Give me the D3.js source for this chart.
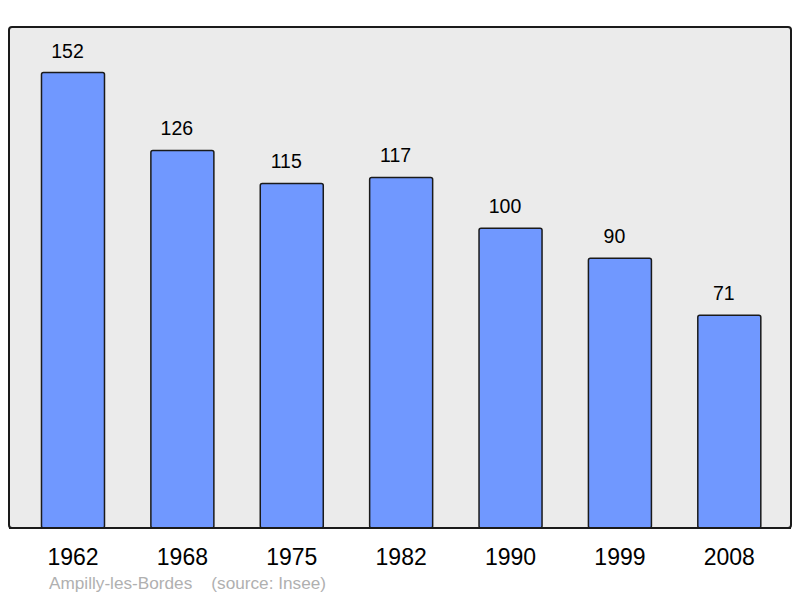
<!DOCTYPE html>
<html>
<head>
<meta charset="utf-8">
<script src="https://cdn.jsdelivr.net/npm/d3@7"></script>
<style>
  html, body { margin: 0; padding: 0; background: #ffffff; }
  svg { display: block; }
  text { font-family: "Liberation Sans", Arial, sans-serif; }
</style>
</head>
<body>
<svg id="chart" width="800" height="598"></svg>
<script>
const years = ["1962", "1968", "1975", "1982", "1990", "1999", "2008"];
const population = [152, 126, 115, 117, 100, 90, 71];
const placeName = "Ampilly-les-Bordes";
const sourceLabel = "(source: Insee)";

const W = 800, H = 598;
const panel = { x0: 9, y0: 27, x1: 791, y1: 528 };

const svg = d3.select("#chart");

svg.append("rect")
  .attr("x", panel.x0).attr("y", panel.y0)
  .attr("width", panel.x1 - panel.x0).attr("height", panel.y1 - panel.y0)
  .attr("rx", 3).attr("ry", 3)
  .attr("fill", "#ebebeb")
  .attr("stroke", "#1a1a1a").attr("stroke-width", 2);

const x = d3.scaleBand()
  .domain(years)
  .range([18.3, 784])
  .paddingInner(0.424)
  .paddingOuter(0.212);

const y = d3.scaleLinear()
  .domain([0, d3.max(population) * 1.1])
  .range([panel.y1, panel.y0]);

const data = years.map((yr, i) => ({ year: yr, value: population[i] }));

svg.append("g").selectAll("rect")
  .data(data).join("rect")
  .attr("x", d => x(d.year))
  .attr("y", d => y(d.value))
  .attr("width", x.bandwidth())
  .attr("height", d => y(0) - y(d.value))
  .attr("rx", 2).attr("ry", 2)
  .attr("fill", "#7098ff")
  .attr("stroke", "#1a1a1a").attr("stroke-width", 1.5);

// redraw panel bottom edge on top of bars
svg.append("line")
  .attr("x1", panel.x0).attr("x2", panel.x1)
  .attr("y1", panel.y1).attr("y2", panel.y1)
  .attr("stroke", "#1a1a1a").attr("stroke-width", 2);

svg.append("g").selectAll("text")
  .data(data).join("text")
  .attr("x", d => x(d.year) + x.bandwidth() / 2 - 5.5)
  .attr("y", d => y(d.value) - 15)
  .attr("text-anchor", "middle")
  .attr("font-size", 19.5)
  .attr("fill", "#000")
  .text(d => d.value);

const xAxis = d3.axisBottom(x).tickSize(0).tickPadding(0);
const gx = svg.append("g")
  .attr("transform", `translate(0,${panel.y1})`)
  .call(xAxis);
gx.select(".domain").remove();
gx.selectAll("text")
  .attr("dy", null)
  .attr("y", 37)
  .attr("font-size", 23)
  .attr("font-family", "Liberation Sans, Arial, sans-serif")
  .attr("fill", "#000");

svg.append("text")
  .attr("x", 49).attr("y", 589)
  .attr("font-size", 17.2)
  .attr("fill", "#b0b0b0")
  .attr("xml:space", "preserve")
  .text(placeName + "    " + sourceLabel);
</script>
</body>
</html>
